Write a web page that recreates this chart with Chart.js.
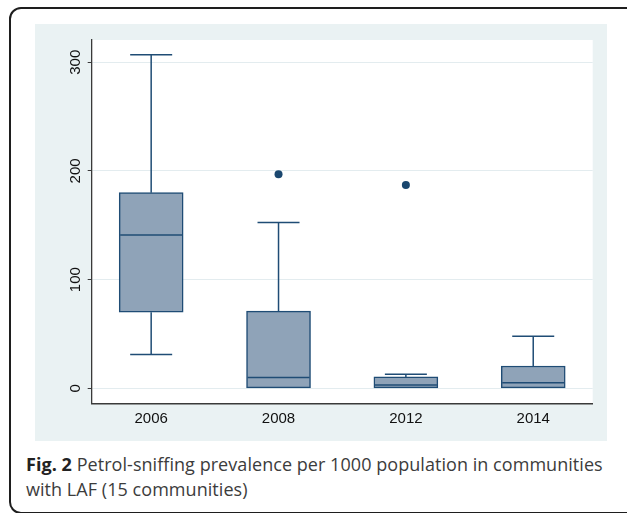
<!DOCTYPE html>
<html>
<head>
<meta charset="utf-8">
<script src="https://cdn.jsdelivr.net/npm/chart.js@4/dist/chart.umd.min.js"></script>
<style>
  html, body { margin: 0; padding: 0; background: #fff; width: 627px; height: 513px; overflow: hidden; position: relative; }
  #frame { position: absolute; left: 9px; top: 7px; width: 640px; height: 507px; border: 2px solid #1e1e1e; border-radius: 12px; box-sizing: border-box; }
  #panel { position: absolute; left: 35px; top: 24px; width: 572px; height: 417px; }
  #caption { position: absolute; left: 26px; top: 452px; width: 600px; font-family: 'Open Sans', sans-serif; font-size: 18px; letter-spacing: 0.05px; line-height: 25px; color: #3c3c3c; white-space: nowrap; }
  #caption b { color: #222; }
</style>
</head>
<body>
<div id="frame"></div>
<div id="panel"><canvas id="chart" width="572" height="417"></canvas></div>
<div id="caption"><b>Fig. 2</b> Petrol-sniffing prevalence per 1000 population in communities<br>with LAF (15 communities)</div>
<script>
// Survey years and box-plot summaries (prevalence per 1000 population)
const years = ['2006', '2008', '2012', '2014'];
const lowerWhisker = [31, 0, 0, 0];
const q1 = [70, 0, 0, 0];
const median = [141, 10, 3, 5];
const q3 = [180, 71, 10.5, 20.5];
const upperWhisker = [307, 152.5, 13, 48];
const outliers = [[], [197], [187], []];
const yTicks = [0, 100, 200, 300];

const navy = '#1f4c75';
const boxFill = '#8fa3b8';

// Panel background and white plot region
const backdrop = {
  id: 'backdrop',
  beforeDraw(chart) {
    const { ctx, chartArea: a } = chart;
    ctx.save();
    ctx.fillStyle = '#eaf2f3';
    ctx.fillRect(0, 0, chart.width, chart.height);
    ctx.fillStyle = '#ffffff';
    ctx.fillRect(a.left, a.top, a.right - a.left, a.bottom - a.top);
    ctx.restore();
  }
};

// Whiskers, caps and median lines placed through the chart scales
const whiskers = {
  id: 'whiskers',
  afterDatasetsDraw(chart) {
    const { ctx, scales: { x, y } } = chart;
    const capHalf = 21, boxHalf = 32;
    ctx.save();
    ctx.strokeStyle = navy;
    ctx.lineWidth = 1.5;
    years.forEach((_, i) => {
      const cx = x.getPixelForValue(i);
      const seg = (x1, y1, x2, y2) => { ctx.beginPath(); ctx.moveTo(x1, y1); ctx.lineTo(x2, y2); ctx.stroke(); };
      const yUp = y.getPixelForValue(upperWhisker[i]);
      const yQ3 = y.getPixelForValue(q3[i]);
      const yQ1 = y.getPixelForValue(q1[i]);
      const yLo = y.getPixelForValue(lowerWhisker[i]);
      const yMed = y.getPixelForValue(median[i]);
      if (upperWhisker[i] > q3[i]) { seg(cx, yQ3, cx, yUp); seg(cx - capHalf, yUp, cx + capHalf, yUp); }
      if (lowerWhisker[i] < q1[i]) { seg(cx, yQ1, cx, yLo); seg(cx - capHalf, yLo, cx + capHalf, yLo); }
      seg(cx - boxHalf + 1, yMed, cx + boxHalf - 1, yMed);
    });
    ctx.restore();
  }
};

const boxData = years.map((_, i) => ({ x: i, y: [q1[i], q3[i]] }));
const outlierData = [];
outliers.forEach((vals, i) => vals.forEach(v => outlierData.push({ x: i, y: v })));

new Chart(document.getElementById('chart'), {
  type: 'bar',
  data: {
    datasets: [
      {
        type: 'bar',
        data: boxData,
        backgroundColor: boxFill,
        borderColor: navy,
        borderWidth: 1.5,
        borderSkipped: false,
        barThickness: 64
      },
      {
        type: 'scatter',
        data: outlierData,
        backgroundColor: '#1a476f',
        borderWidth: 0,
        pointRadius: 4
      }
    ]
  },
  options: {
    responsive: false,
    animation: false,
    events: [],
    layout: { padding: { top: 16, right: 14.3, left: 0, bottom: 0 } },
    plugins: { legend: { display: false }, tooltip: { enabled: false } },
    scales: {
      x: {
        type: 'linear',
        offset: false,
        min: -0.467,
        max: 3.467,
        afterBuildTicks: s => { s.ticks = years.map((_, i) => ({ value: i })); },
        afterFit: s => { s.height = 37.7; },
        grid: { display: false },
        border: { display: true, color: '#3a3a3a', width: 1.4 },
        ticks: {
          callback: v => years[v],
          color: '#111',
          font: { family: 'Liberation Sans, Arial, sans-serif', size: 15 },
          padding: -1.5,
          maxRotation: 0
        }
      },
      y: {
        min: -13.8,
        max: 320.5,
        afterBuildTicks: s => { s.ticks = yTicks.map(v => ({ value: v })); },
        afterFit: s => { s.width = 56.7; },
        grid: { color: '#e3ecef', lineWidth: 1, tickColor: '#3a3a3a', tickLength: 4 },
        border: { display: true, color: '#3a3a3a', width: 1.3 },
        ticks: {
          color: '#111',
          font: { family: 'Liberation Sans, Arial, sans-serif', size: 15 },
          minRotation: 90,
          maxRotation: 90,
          crossAlign: 'center',
          padding: -1
        }
      }
    }
  },
  plugins: [backdrop, whiskers]
});
</script>
</body>
</html>
